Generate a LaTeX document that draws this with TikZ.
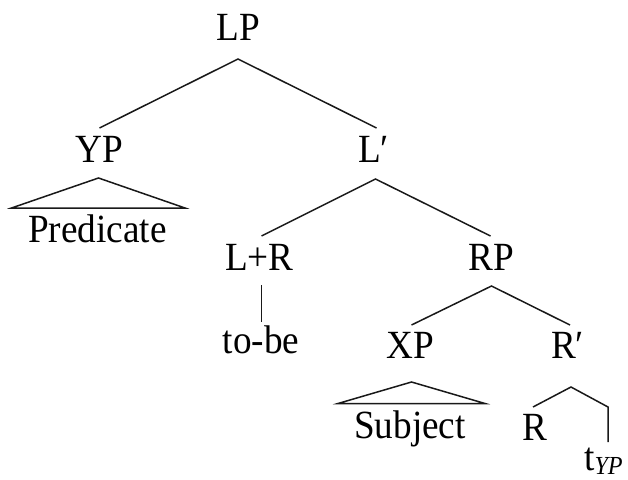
\documentclass[tikz,border=0pt]{standalone}
\usepackage{fontspec}
\setmainfont{Liberation Serif}[FakeStretch=0.93]
\usetikzlibrary{calc}
\begin{document}
\begin{tikzpicture}[x=1pt,y=-1pt,
  lbl/.style={anchor=base,inner sep=0pt,font=\fontsize{40}{44}\selectfont},
  edge/.style={line width=1.5pt,line join=miter,draw=black!90}]
\useasboundingbox (0,0) rectangle (628,479);

% category labels, placed by their baselines
\node[lbl] (LP)   at (238,40)    {LP};
\node[lbl] (YP)   at (99.5,162)  {YP};
\node[lbl] (Lbar) at (373.5,162) {L′};
\node[lbl] (Pred) at (97.5,242)  {Predicate};
\node[lbl] (LR)   at (259.5,270) {L+R};
\node[lbl] (RP)   at (491.5,270) {RP};
\node[lbl] (tobe) at (261,353)   {to-be};
\node[lbl] (XP)   at (410,358)   {XP};
\node[lbl] (Rbar) at (567.5,358) {R′};
\node[lbl] (Subj) at (410,438)   {Subject};
\node[lbl] (R)    at (535,440)   {R};
\node[lbl,anchor=base west] (trace) at (584,470)
  {t\raisebox{-4pt}{\fontsize{26}{28}\selectfont\itshape YP}};

% branches
\draw[edge] ($(YP.base)+(0,-34)$) -- ($(LP.base)+(0,19)$) -- ($(Lbar.base)+(3,-34)$);
\draw[edge] ($(LR.base)+(2,-34)$) -- ($(Lbar.base)+(2,17)$) -- ($(RP.base)+(-1,-34)$);
\draw[edge] ($(LR.base)+(2,15)$) -- ($(tobe.base)+(0.5,-31)$);
\draw[edge] ($(XP.base)+(1.5,-33)$) -- ($(RP.base)+(0,16)$) -- ($(Rbar.base)+(2.5,-33)$);
\draw[edge] ($(R.base)+(-2,-33)$) -- ($(Rbar.base)+(3.5,29)$)
  -- ($(trace.base west)+(24,-63)$) -- ($(trace.base west)+(24,-28)$);

% roofs over unanalysed phrases
\draw[edge] ($(Pred.base)+(-86,-34)$) -- ($(YP.base)+(-1,16)$)
  -- ($(Pred.base)+(87.5,-34)$) -- cycle;
\draw[edge] ($(Subj.base)+(-72,-34.5)$) -- ($(XP.base)+(1.5,24)$)
  -- ($(Subj.base)+(75,-34.5)$) -- cycle;
\end{tikzpicture}
\end{document}
